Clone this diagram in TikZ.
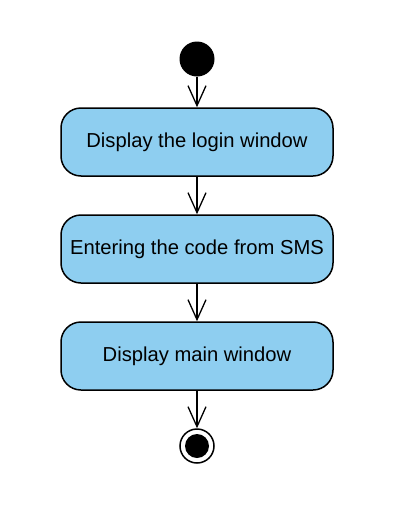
\documentclass[tikz,border=0pt]{standalone}
\usepackage{fontspec}
\setmainfont{Liberation Sans}
\usetikzlibrary{arrows.meta}
\definecolor{actfill}{RGB}{142,206,240}
\begin{document}
\begin{tikzpicture}[x=1pt,y=-1pt,
  act/.style={draw=black,fill=actfill,line width=1.5pt,rounded corners=20pt,minimum width=272pt,minimum height=68pt,inner sep=0pt,font=\fontsize{20.2}{24}\selectfont},
  flow/.style={line width=1.3pt,-{Straight Barb[length=20pt,width=18pt,line width=1.3pt]}}]
\useasboundingbox (0,0) rectangle (401,509);
\node[circle,fill=black,minimum size=35pt,inner sep=0pt] (start) at (197,59) {};
\node[act] (a1) at (197,142) {Display the login window};
\node[act] (a2) at (197,249) {Entering the code from SMS};
\node[act] (a3) at (197,356) {Display main window};
\node[circle,draw=black,line width=1.5pt,minimum size=34pt,inner sep=0pt] (endo) at (197,446) {};
\node[circle,fill=black,minimum size=24pt,inner sep=0pt] (endi) at (197,446) {};
\draw[flow] (start) -- (a1);
\draw[flow] (a1) -- (a2);
\draw[flow] (a2) -- (a3);
\draw[flow] (a3) -- (endo);
\end{tikzpicture}
\end{document}
